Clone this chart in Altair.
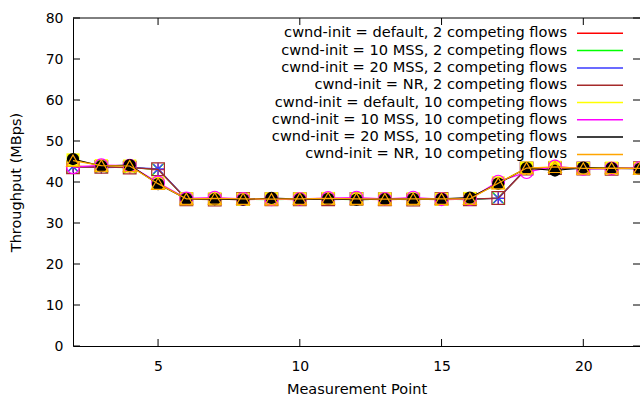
import altair as alt
import pandas as pd

# ---------------- data ----------------
x_points = list(range(2, 23))
x_ticks = [5, 10, 15, 20]
y_ticks = [0, 10, 20, 30, 40, 50, 60, 70, 80]

series_names = [
    "cwnd-init = default, 2 competing flows",
    "cwnd-init = 10 MSS, 2 competing flows",
    "cwnd-init = 20 MSS, 2 competing flows",
    "cwnd-init = NR, 2 competing flows",
    "cwnd-init = default, 10 competing flows",
    "cwnd-init = 10 MSS, 10 competing flows",
    "cwnd-init = 20 MSS, 10 competing flows",
    "cwnd-init = NR, 10 competing flows",
]

red_vals = [43.9, 43.7, 43.6, 43.0, 35.9, 35.8, 35.7, 35.8, 35.7, 35.9, 35.8, 35.7, 35.8, 35.7, 35.8, 36.0, 43.2, 43.3, 43.4, 43.3, 43.4]
green_vals = [43.7, 43.6, 43.5, 43.1, 35.8, 35.9, 35.8, 35.7, 35.8, 35.8, 35.7, 35.8, 35.9, 35.8, 35.7, 36.1, 43.3, 43.2, 43.3, 43.4, 43.3]
blue_vals = [43.8, 43.5, 43.6, 43.2, 35.9, 35.8, 35.8, 35.8, 35.9, 35.7, 35.8, 35.9, 35.8, 35.8, 35.9, 36.0, 43.4, 43.3, 43.2, 43.3, 43.5]
brown_vals = [43.6, 43.7, 43.5, 43.1, 35.8, 35.7, 35.9, 35.8, 35.8, 35.8, 35.9, 35.8, 35.7, 35.9, 35.8, 36.1, 43.3, 43.4, 43.3, 43.2, 43.4]
yellow_vals = [45.4, 44.0, 43.9, 39.7, 35.9, 35.9, 35.8, 35.9, 35.9, 36.0, 35.9, 35.9, 35.9, 35.8, 36.0, 39.8, 43.4, 43.6, 43.3, 43.4, 43.3]
magenta_vals = [43.6, 44.1, 44.0, 39.9, 36.0, 36.2, 35.9, 35.8, 35.9, 36.1, 36.2, 35.9, 36.2, 35.8, 35.9, 40.1, 42.4, 43.8, 43.2, 43.3, 43.4]
black_vals = [45.6, 43.9, 44.1, 39.5, 35.9, 35.8, 35.7, 36.1, 35.8, 35.9, 35.7, 35.8, 35.9, 35.9, 36.2, 39.6, 43.4, 42.8, 43.5, 43.4, 43.2]
orange_vals = [45.2, 44.0, 43.9, 39.6, 35.9, 36.0, 35.9, 35.8, 35.9, 36.0, 35.9, 35.8, 35.9, 35.9, 35.9, 39.7, 43.4, 43.7, 43.3, 43.4, 43.3]

all_vals = [red_vals, green_vals, blue_vals, brown_vals,
            yellow_vals, magenta_vals, black_vals, orange_vals]

colors = ["#ff0000", "#00ff00", "#3a3aff", "#a52a2a",
          "#ffff00", "#ff00ff", "#000000", "#ffa500"]
shapes = [
    "M-1,0L1,0M0,-1L0,1",
    "M-1,-1L1,1M-1,1L1,-1",
    "M-1,0L1,0M0,-1L0,1M-0.75,-0.75L0.75,0.75M-0.75,0.75L0.75,-0.75",
    "square", "square", "circle", "circle", "triangle-up",
]
filled = [False, False, False, False, True, False, True, False]
sizes = [150, 130, 150, 160, 170, 160, 150, 170]

rows = []
for name, vals in zip(series_names, all_vals):
    for xp, v in zip(x_points, vals):
        rows.append({"point": xp, "throughput": v, "series": name})
df = pd.DataFrame(rows)
legend_df = pd.DataFrame({"series": series_names})

W, H = 567, 328
FONT = "DejaVu Sans"
LEG_TEXT_X, LEG_LINE_X1, LEG_LINE_X2 = 494, 504, 550
LEG_Y0, LEG_DY = 15.3, 17.3

x_scale = alt.Scale(domain=[x_points[0], x_points[-1]], nice=False, zero=False)
y_scale = alt.Scale(domain=[y_ticks[0], y_ticks[-1]], nice=False)
color_scale = alt.Scale(domain=series_names, range=colors)

x_enc = alt.X("point:Q", scale=x_scale,
              axis=alt.Axis(values=x_ticks, title="Measurement Point",
                            labelPadding=20, labelBaseline="middle",
                            titleY=43, titleBaseline="middle",
                            format="d"))
y_enc = alt.Y("throughput:Q", scale=y_scale,
              axis=alt.Axis(values=y_ticks, title="Throughput (MBps)",
                            labelPadding=10, titleX=-57, titleY=H / 2,
                            titleBaseline="middle", titleAlign="center"))

layers = []
for i, name in enumerate(series_names):
    base = alt.Chart(df).transform_filter(alt.datum.series == name)
    line = base.mark_line(strokeWidth=1.2, clip=True).encode(
        x=x_enc, y=y_enc,
        color=alt.Color("series:N", scale=color_scale, legend=None),
    )
    pts = base.mark_point(
        shape=shapes[i], filled=filled[i], color=colors[i], size=sizes[i],
        strokeWidth=1.2, opacity=1, clip=False,
    ).encode(x=x_enc, y=y_enc)
    layers += [line, pts]

# legend (gnuplot style: text right-aligned, line sample on the right)
legend_layers = []
for i, name in enumerate(series_names):
    lb = alt.Chart(legend_df).transform_filter(alt.datum.series == name)
    ypix = LEG_Y0 + i * LEG_DY
    legend_layers.append(
        lb.mark_text(align="right", baseline="middle", font=FONT,
                     fontSize=14.6, color="black").encode(
            text="series:N", x=alt.value(LEG_TEXT_X), y=alt.value(ypix)))
    legend_layers.append(
        lb.mark_rule(strokeWidth=1.5).encode(
            color=alt.Color("series:N", scale=color_scale, legend=None),
            x=alt.value(LEG_LINE_X1), x2=alt.value(LEG_LINE_X2),
            y=alt.value(ypix)))

# inward tick marks and top border (gnuplot style)
ytick_df = pd.DataFrame({"v": y_ticks})
xtick_df = pd.DataFrame({"p": x_ticks})
top_df = pd.DataFrame({"v": [y_ticks[-1]]})

left_ticks = alt.Chart(ytick_df).mark_rule(color="black", strokeWidth=1).encode(
    y=alt.Y("v:Q", scale=y_scale), x=alt.value(0), x2=alt.value(7))
right_ticks = alt.Chart(ytick_df).mark_rule(color="black", strokeWidth=1).encode(
    y=alt.Y("v:Q", scale=y_scale), x=alt.value(W - 7), x2=alt.value(W))
bottom_ticks = alt.Chart(xtick_df).mark_rule(color="black", strokeWidth=1).encode(
    x=alt.X("p:Q", scale=x_scale), y=alt.value(H), y2=alt.value(H - 7))
top_ticks = alt.Chart(xtick_df).mark_rule(color="black", strokeWidth=1).encode(
    x=alt.X("p:Q", scale=x_scale), y=alt.value(0), y2=alt.value(7))
top_border = alt.Chart(top_df).mark_rule(color="black", strokeWidth=1).encode(
    y=alt.Y("v:Q", scale=y_scale))

chart = alt.layer(
    left_ticks, right_ticks, bottom_ticks, top_ticks, top_border,
    *legend_layers, *layers,
).properties(
    width=W, height=H,
    autosize=alt.AutoSizeParams(type="none"),
    padding={"left": 73, "top": 18, "right": 0, "bottom": 52},
    background="white",
).configure_view(stroke=None).configure_axis(
    grid=False, ticks=False, tickSize=0, domain=True, domainColor="black",
    domainWidth=1, labelFont=FONT, labelFontSize=14, labelColor="black",
    titleFont=FONT, titleFontSize=14.5, titleColor="black",
    titleFontWeight="normal",
)

chart.save("out.html", embed_options={"renderer": "svg", "actions": False})
